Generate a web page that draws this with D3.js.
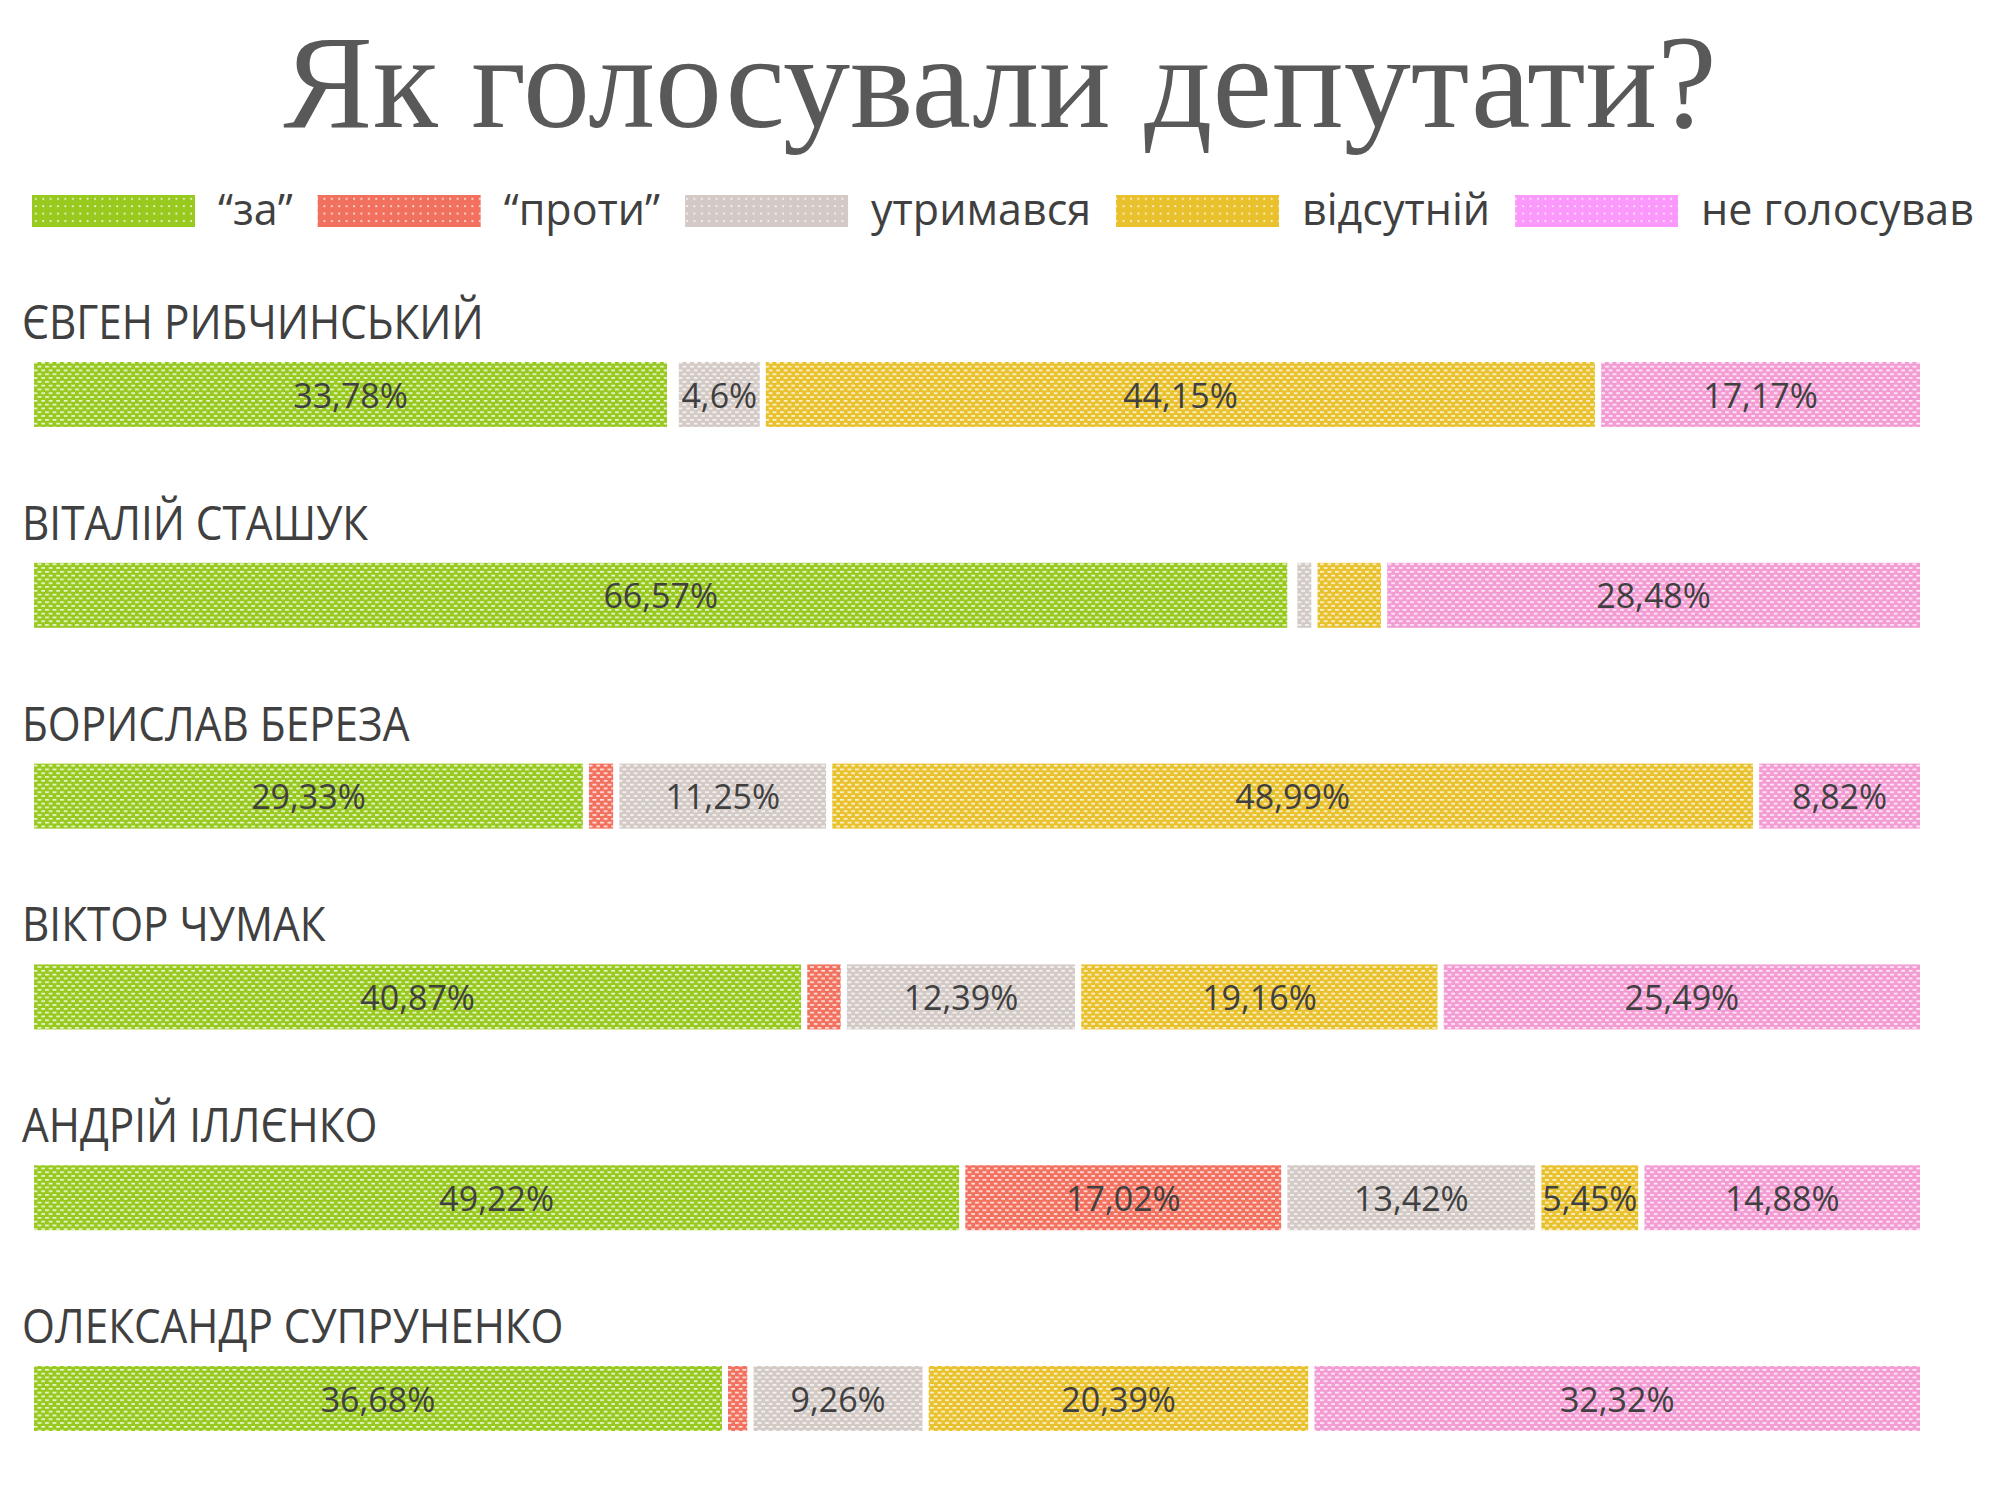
<!DOCTYPE html>
<html>
<head>
<meta charset="utf-8">
<script src="https://cdn.jsdelivr.net/npm/d3@7"></script>
<style>
  body { margin: 0; background: #fff; }
  svg { display: block; }
</style>
</head>
<body>
<div id="chart"></div>
<script>
// deputies, top to bottom
const candidates = ["ЄВГЕН РИБЧИНСЬКИЙ", "ВІТАЛІЙ СТАШУК", "БОРИСЛАВ БЕРЕЗА", "ВІКТОР ЧУМАК", "АНДРІЙ ІЛЛЄНКО", "ОЛЕКСАНДР СУПРУНЕНКО"];
const seriesNames = ["“за”", "“проти”", "утримався", "відсутній", "не голосував"];

// percentages per deputy (unlabeled slivers)
const za = [33.78, 66.57, 29.33, 40.87, 49.22, 36.68];
const proty = [0.3, 0.2, 1.61, 2.09, 17.02, 1.35];
const utrymavsia = [4.6, 1.07, 11.25, 12.39, 13.42, 9.26];
const vidsutnii = [44.15, 3.68, 48.99, 19.16, 5.45, 20.39];
const neHolosuvav = [17.17, 28.48, 8.82, 25.49, 14.88, 32.32];

const colors = ["#98c91f", "#f2705e", "#d3cac6", "#e9c12c", "#f39cd4"];
const legendColors = ["#98c91f", "#f2705e", "#d3cac6", "#e9c12c", "#fb98fb"];

const keys = ["za", "proty", "utrymavsia", "vidsutnii", "neHolosuvav"];
const columns = [za, proty, utrymavsia, vidsutnii, neHolosuvav];
const rows = candidates.map((name, i) => {
  const r = { name };
  keys.forEach((k, j) => { r[k] = columns[j][i]; });
  return r;
});

const width = 2000, height = 1500;
const svg = d3.select("#chart").append("svg")
  .attr("width", width)
  .attr("height", height);

// fill patterns: colour with small white dashes, staggered
const defs = svg.append("defs");
colors.forEach((c, i) => {
  const p = defs.append("pattern")
    .attr("id", "pat-" + i)
    .attr("patternUnits", "userSpaceOnUse")
    .attr("width", 7.5).attr("height", 7.6);
  p.append("rect").attr("width", 7.5).attr("height", 7.6).attr("fill", c);
  p.append("rect").attr("x", 0).attr("y", 1).attr("width", 4).attr("height", 1.6).attr("fill", "#fff").attr("opacity", 0.85);
  p.append("rect").attr("x", 3.75).attr("y", 4.8).attr("width", 4).attr("height", 1.6).attr("fill", "#fff").attr("opacity", 0.85);
});
legendColors.forEach((c, i) => {
  const p = defs.append("pattern")
    .attr("id", "leg-" + i)
    .attr("patternUnits", "userSpaceOnUse")
    .attr("width", 7.4).attr("height", 7.4);
  p.append("rect").attr("width", 7.4).attr("height", 7.4).attr("fill", c);
  p.append("rect").attr("x", 3).attr("y", 3).attr("width", 1.7).attr("height", 1.7).attr("fill", "#fff").attr("opacity", 0.9);
});

// title
svg.append("text")
  .attr("x", 1000)
  .attr("y", 127)
  .attr("text-anchor", "middle")
  .style("font-family", "'Liberation Serif', 'Times New Roman', serif")
  .style("font-size", "134px")
  .style("fill", "#595959")
  .text("Як голосували депутати?");

// legend, laid out left to right
const legend = svg.append("g").attr("transform", "translate(32,195)");
let lx = 0;
seriesNames.forEach((s, i) => {
  legend.append("rect")
    .attr("x", lx).attr("y", 0)
    .attr("width", 163).attr("height", 32)
    .attr("fill", `url(#leg-${i})`);
  lx += 163 + 23;
  const t = legend.append("text")
    .attr("x", lx).attr("y", 30)
    .style("font-family", "'Open Sans', sans-serif")
    .style("font-size", "43px")
    .style("fill", "#404040")
    .text(s);
  lx += t.node().getComputedTextLength() + 25;
});

// stacked 100% bars
const stack = d3.stack().keys(keys).offset(d3.stackOffsetExpand);
const series = stack(rows);

const x = d3.scaleLinear().domain([0, 1]).range([31, 1923]);
const y = d3.scaleBand().domain(candidates).range([359, 359 + 6 * 200.8]).paddingInner(0);
const barH = 71;

const fmt = v => String(v).replace(".", ",") + "%";

const rowG = svg.append("g");

rowG.selectAll("text.name")
  .data(candidates)
  .join("text")
  .attr("class", "name")
  .attr("transform", d => `translate(22,${y(d) - 20}) scale(0.9,1)`)
  .style("font-family", "'Open Sans', sans-serif")
  .style("font-size", "47px")
  .style("fill", "#404040")
  .text(d => d);

series.forEach((s, i) => {
  const g = svg.append("g");
  g.selectAll("rect")
    .data(s)
    .join("rect")
    .attr("x", d => x(d[0]))
    .attr("y", d => y(d.data.name))
    .attr("width", d => x(d[1]) - x(d[0]))
    .attr("height", barH)
    .attr("fill", `url(#pat-${i})`)
    .attr("stroke", "#fff")
    .attr("stroke-width", 6);

  g.selectAll("text")
    .data(s.filter(d => d.data[s.key] >= 4))
    .join("text")
    .attr("x", d => (x(d[0]) + x(d[1])) / 2)
    .attr("y", d => y(d.data.name) + barH / 2)
    .attr("text-anchor", "middle")
    .attr("dominant-baseline", "central")
    .style("font-family", "'Open Sans', sans-serif")
    .style("font-size", "34px")
    .style("fill", "#404040")
    .text(d => fmt(d.data[s.key]));
});
</script>
</body>
</html>
